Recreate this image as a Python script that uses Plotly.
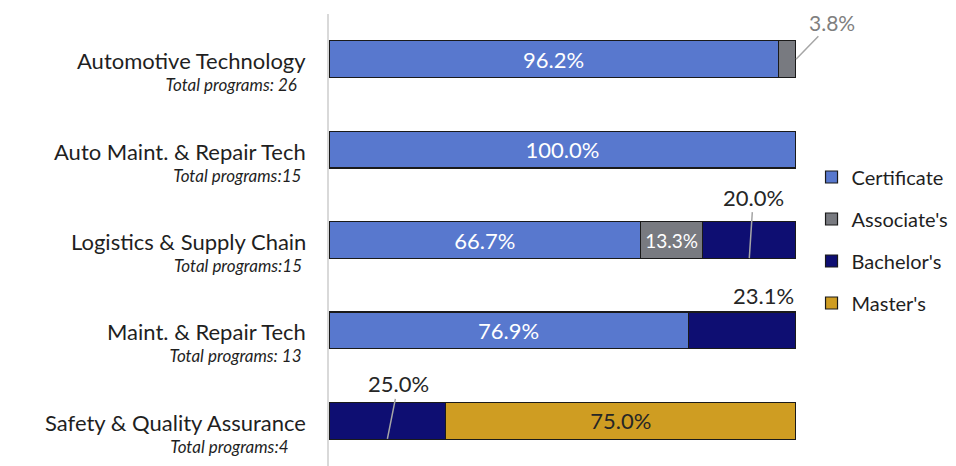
import plotly.graph_objects as go

categories = ["Automotive Technology", "Auto Maint. & Repair Tech", "Logistics & Supply Chain",
              "Maint. & Repair Tech", "Safety & Quality Assurance"]
totals_labels = ["Total programs: 26", "Total programs:15", "Total programs:15",
                 "Total programs: 13", "Total programs:4"]
series_names = ["Certificate", "Associate's", "Bachelor's", "Master's"]
certificate = [96.2, 100.0, 66.7, 76.9, None]
associates = [3.8, None, 13.3, None, None]
bachelors = [None, None, 20.0, 23.1, 25.0]
masters = [None, None, None, None, 75.0]

colors = ["#5878CE", "#787A80", "#0E0E72", "#CF9D22"]
text_colors = ["white", "white", "white", "#262626"]
FONT = "Lato"

series = [certificate, associates, bachelors, masters]
ypos = list(range(len(categories)))

# which labels are drawn inside bars (others are call-outs)
inside = [
    [True, True, True, True, False],
    [False, False, True, False, False],
    [False, False, False, False, False],
    [False, False, False, False, True],
]
# right indent of the "Total programs" line (non-breaking spaces)
total_indent = [2, 1, 1, 1, 4]

fig = go.Figure()
for k, (name, vals) in enumerate(zip(series_names, series)):
    txt = [f"{v:.1f}%" if (v is not None and inside[k][i]) else "" for i, v in enumerate(vals)]
    fig.add_trace(go.Bar(
        name=name, y=ypos, x=vals, orientation="h", width=0.405,
        marker=dict(color=colors[k], line=dict(color="#1a1a1a", width=1.2)),
        text=txt, textposition="inside", insidetextanchor="middle", textangle=0,
        constraintext="none",
        insidetextfont=dict(family=FONT, size=22 if k != 1 else 19, color=text_colors[k]),
        legendgroup=name, hoverinfo="skip",
    ))

def cum_before(k, i):
    return sum((series[j][i] or 0) for j in range(k))

annotations = []
for i, (cat, tot) in enumerate(zip(categories, totals_labels)):
    label = (f"<span style='font-size:22px'>{cat}</span><br>"
             f"<i>{tot}</i>" + "&nbsp;" * total_indent[i])
    annotations.append(dict(x=0, y=i, xref="x", yref="y", text=label, showarrow=False,
                            xanchor="right", yanchor="middle", align="right",
                            xshift=-21, yshift=-12,
                            font=dict(family=FONT, size=17, color="#1f1f1f")))

# call-outs
# 3.8% (Associate's, Automotive)
i, k = 0, 1
annotations.append(dict(x=cum_before(k, i) + series[k][i], y=i, xref="x", yref="y",
                        text=f"{series[k][i]:.1f}%", showarrow=True, arrowhead=0,
                        arrowcolor="#a6a6a6", arrowwidth=1.5, ax=36, ay=-37,
                        font=dict(family=FONT, size=21, color="#7f7f7f")))
# 20.0% (Bachelor's, Logistics)
i, k = 2, 2
annotations.append(dict(x=cum_before(k, i) + series[k][i] / 2, y=i + 0.2, xref="x", yref="y",
                        text=f"{series[k][i]:.1f}%", showarrow=True, arrowhead=0,
                        arrowcolor="#a6a6a6", arrowwidth=1.5, ax=4, ay=-61,
                        font=dict(family=FONT, size=22, color="#262626")))
# 23.1% (Bachelor's, Maint.)
i, k = 3, 2
annotations.append(dict(x=cum_before(k, i) + series[k][i], y=i - 0.2, xref="x", yref="y",
                        text=f"{series[k][i]:.1f}%", showarrow=False, xanchor="right",
                        yanchor="bottom", yshift=1,
                        font=dict(family=FONT, size=22, color="#262626")))
# 25.0% (Bachelor's, Safety)
i, k = 4, 2
annotations.append(dict(x=cum_before(k, i) + series[k][i] / 2, y=i + 0.2, xref="x", yref="y",
                        text=f"{series[k][i]:.1f}%", showarrow=True, arrowhead=0,
                        arrowcolor="#a6a6a6", arrowwidth=1.5, ax=11, ay=-55,
                        font=dict(family=FONT, size=22, color="#262626")))

# page body has an 8px margin: figure is 948x458 and offset by 8px
fig.update_layout(
    width=948, height=458, barmode="stack",
    margin=dict(l=321, r=160, t=6, b=0),
    paper_bgcolor="white", plot_bgcolor="white",
    xaxis=dict(range=[0, 100], visible=False, fixedrange=True),
    yaxis=dict(range=[4.5, -0.5], showticklabels=False, showgrid=False, zeroline=False,
               showline=True, linecolor="#d9d9d9", linewidth=1.5, ticks=""),
    legend=dict(xref="container", yref="container", x=0.8476, y=0.4934, yanchor="middle",
                xanchor="left", traceorder="grouped", tracegroupgap=13,
                font=dict(family=FONT, size=20, color="#1f1f1f"), bgcolor="rgba(0,0,0,0)"),
    annotations=annotations,
    showlegend=True,
)

fig.write_html("out.html")
